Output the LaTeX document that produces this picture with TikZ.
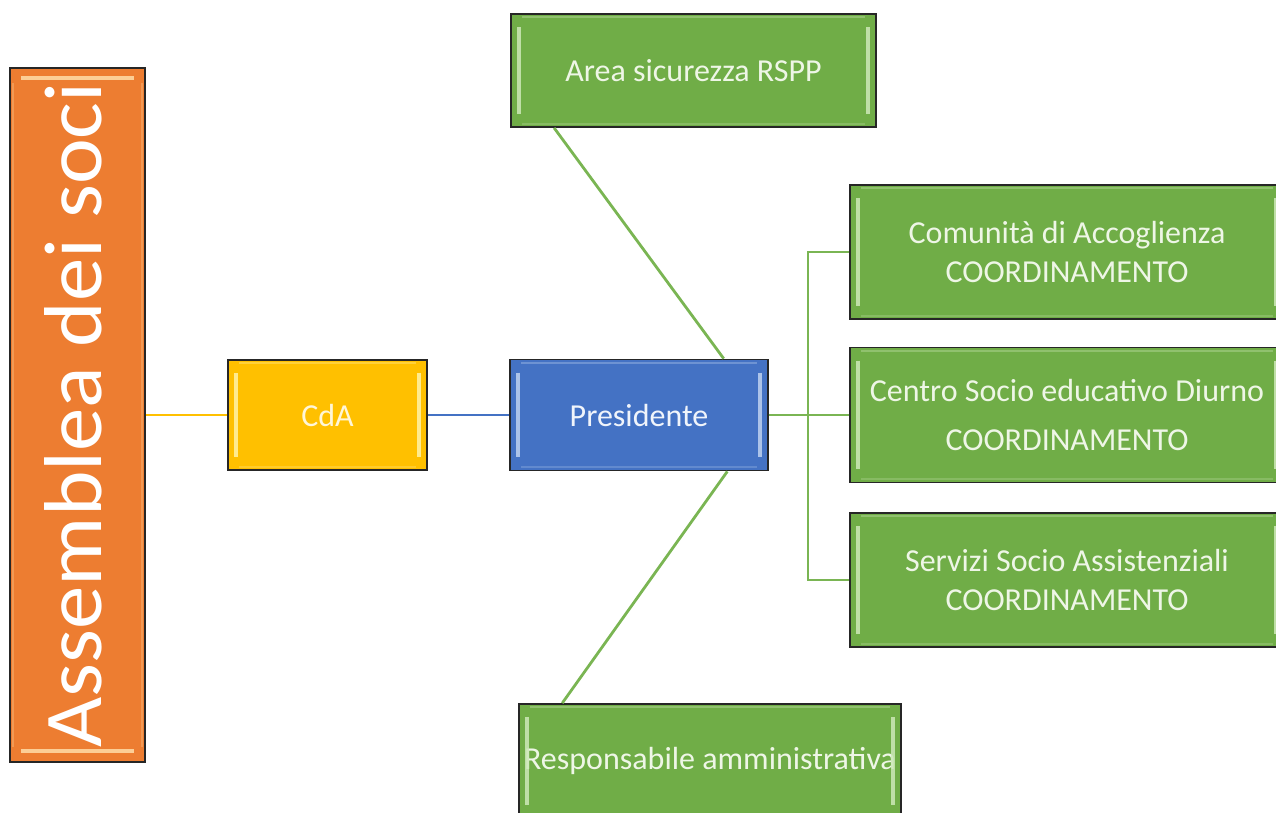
\documentclass[tikz,border=0pt]{standalone}
\usepackage{fontspec}
\setmainfont{Carlito}
\usetikzlibrary{calc}
\definecolor{orng}{HTML}{ED7D31}
\definecolor{ylw}{HTML}{FFC000}
\definecolor{blu}{HTML}{4472C4}
\definecolor{grn}{HTML}{70AD47}
\definecolor{grnline}{HTML}{7AB553}
\definecolor{hlgrn}{HTML}{CDE8B8}
\definecolor{hlblu}{HTML}{BFD2F0}
\definecolor{hlylw}{HTML}{FFF3A8}
\definecolor{hlorn}{HTML}{FFDDA8}
\definecolor{txtg}{HTML}{EEF6E6}
\definecolor{txty}{HTML}{FFF6D8}
\definecolor{txtb}{HTML}{F0F4FB}
\newcommand{\bevelside}[2]{%
  \draw[#2, line width=4pt, opacity=0.85, line cap=butt] ($(#1.north west)+(9,14)$) -- ($(#1.south west)+(9,-14)$);
  \draw[#2, line width=4pt, opacity=0.85, line cap=butt] ($(#1.north east)+(-9,14)$) -- ($(#1.south east)+(-9,-14)$);
  \draw[#2, opacity=0.35, line width=2pt] ($(#1.north west)+(12,4)$) -- ($(#1.north east)+(-12,4)$);
  \draw[#2, opacity=0.25, line width=2pt] ($(#1.south west)+(12,-4)$) -- ($(#1.south east)+(-12,-4)$);
}
\newcommand{\beveltop}[2]{%
  \draw[#2, line width=4pt, opacity=0.85, line cap=butt] ($(#1.north west)+(12,11)$) -- ($(#1.north east)+(-12,11)$);
  \draw[#2, line width=4pt, opacity=0.85, line cap=butt] ($(#1.south west)+(12,-12)$) -- ($(#1.south east)+(-12,-12)$);
  \draw[#2, opacity=0.3, line width=2pt] ($(#1.north west)+(4,16)$) -- ($(#1.south west)+(4,-16)$);
  \draw[#2, opacity=0.3, line width=2pt] ($(#1.north east)+(-4,16)$) -- ($(#1.south east)+(-4,-16)$);
}
\begin{document}
\begin{tikzpicture}[x=1pt,y=-1pt,
  box/.style={draw=black!85, line width=1.8pt, inner sep=0pt, align=center,
              font=\fontsize{32}{38.5}\selectfont},
  gbox/.style={box, fill=grn, text=txtg},
  conn/.style={line width=2.8pt},
  gline/.style={conn, draw=grnline}]
\useasboundingbox (0,0) rectangle (1276,812);

% nodes
\node[box, fill=orng, text=white, minimum width=135pt, minimum height=694pt] (asm) at (77.5,415)
  {\hspace*{-8pt}\rotatebox{90}{\resizebox{665pt}{57pt}{Assemblea dei soci}}};
\node[box, fill=ylw, text=txty, minimum width=199pt, minimum height=110pt] (cda) at (327.5,415) {CdA};
\node[box, fill=blu, text=txtb, minimum width=258pt, minimum height=111pt] (pres) at (639,415) {Presidente};
\node[gbox, minimum width=365pt, minimum height=113pt] (area) at (693.5,70.5) {Area sicurezza RSPP};
\node[gbox, minimum width=434pt, minimum height=134pt] (com) at (1067,252) {Comunità di Accoglienza\\COORDINAMENTO};
\node[gbox, minimum width=434pt, minimum height=135pt] (cen) at (1067,415) {Centro Socio educativo Diurno\\[10pt]COORDINAMENTO};
\node[gbox, minimum width=434pt, minimum height=134pt] (ser) at (1067,580) {Servizi Socio Assistenziali\\COORDINAMENTO};
\node[gbox, minimum width=382pt, minimum height=114pt] (resp) at (710,761) {Responsabile amministrativa};

% bevel highlights
\beveltop{asm}{hlorn}
\bevelside{cda}{hlylw}
\bevelside{pres}{hlblu}
\bevelside{area}{hlgrn}
\bevelside{com}{hlgrn}
\bevelside{cen}{hlgrn}
\bevelside{ser}{hlgrn}
\bevelside{resp}{hlgrn}

% connectors
\draw[conn, draw=ylw] (asm.east) -- (cda.west);
\draw[conn, draw=blu] (cda.east) -- (pres.west);
\coordinate (jn) at (808,415);
\draw[gline] (pres.east) -- (cen.west);
\draw[gline] (com.west) -| (jn) |- (ser.west);
\draw[gline] ($(area.south west)!0.12!(area.south east)$) -- ($(pres.north west)!0.826!(pres.north east)$);
\draw[gline] ($(pres.south west)!0.84!(pres.south east)$) -- ($(resp.north west)!0.115!(resp.north east)$);
\end{tikzpicture}
\end{document}
